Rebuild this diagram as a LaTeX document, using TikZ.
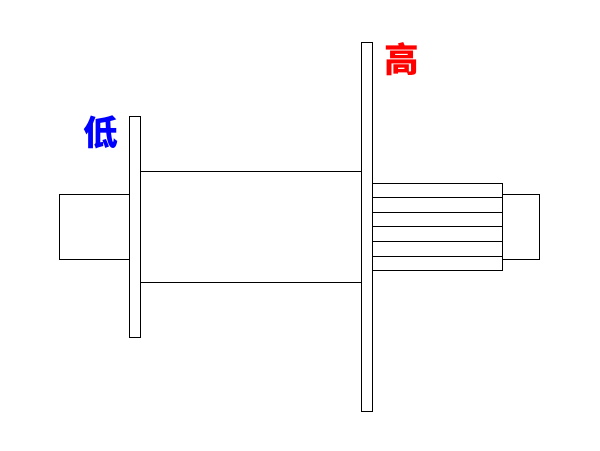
\documentclass[tikz,border=0pt]{standalone}
\usepackage{fontspec}
\newfontfamily\cjk{Noto Sans CJK SC}
\tikzset{
  part/.style={draw=black,line width=0.75pt,fill=white},
  wire/.style={draw=black,line width=0.75pt},
  mark label/.style={inner sep=0pt,font=\cjk\bfseries\fontsize{26pt}{26pt}\selectfont}
}
\begin{document}
\begin{tikzpicture}[x=0.75pt,y=-0.75pt]
\useasboundingbox (0,0) rectangle (600,450);
\fill[white] (0,0) rectangle (600,450);
% left hub and right hub
\draw[part] (59.5,194.5) rectangle (129.5,259.5);
\draw[part] (502.5,194.5) rectangle (539.5,259.5);
% drum
\draw[part] (140.5,171.5) rectangle (361.5,282.5);
% splined shaft
\draw[part] (372.5,183.5) rectangle (502.5,270.5);
\foreach \yy in {197.5,212.5,226.5,241.5,256.5}
  \draw[wire] (372.5,\yy) -- (502.5,\yy);
% flanges
\draw[part] (129.5,116.5) rectangle (140.5,337.5);
\draw[part] (361.5,42.5) rectangle (372.5,411.5);
% labels
\node[mark label,text=blue] (low) at (101,132) {低};
\node[mark label,text=red] (high) at (402,59) {高};
\end{tikzpicture}
\end{document}
